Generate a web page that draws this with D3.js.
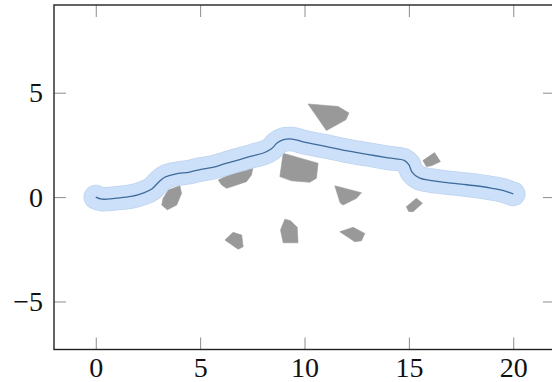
<!DOCTYPE html>
<meta charset="utf-8">
<style>
body { margin: 0; background: #fff; }
.axis text { font-family: "Liberation Serif", "DejaVu Serif", serif; font-size: 28px; fill: #111; }
.axis .tick line { stroke: #8c8c8c; stroke-width: 1; }
.axis .domain { display: none; }
.frame { fill: none; stroke: #222; stroke-width: 1.4; }
.obstacle { fill: #999; stroke: #999; stroke-width: 0.6; stroke-linejoin: round; }
.band-edge { fill: none; stroke: #bdd2ee; stroke-width: 24.5; stroke-linecap: round; stroke-linejoin: round; }
.band { fill: none; stroke: #cce0fa; stroke-width: 23; stroke-linecap: round; stroke-linejoin: round; }
.path { fill: none; stroke: #3f6b9a; stroke-width: 1.3; }
</style>
<svg width="552" height="382"></svg>
<script src="https://cdn.jsdelivr.net/npm/d3@7"></script>
<script>

// path found through the obstacle field
var pathX = [0, 0.3, 1, 1.7, 2.3, 2.7, 3.0, 3.3, 3.8, 4.5, 5.0, 5.6, 6.2, 6.9, 7.5, 8.0, 8.4, 8.7, 9.0, 9.4, 10.0, 11.0, 12.0, 13.0, 14.0, 14.8, 15.0, 15.15, 15.5, 16.0, 16.6, 17.5, 18.3, 19.0, 19.5, 20];
var pathY = [0, -0.1, -0.05, 0.03, 0.2, 0.4, 0.7, 0.95, 1.1, 1.2, 1.32, 1.42, 1.6, 1.8, 1.97, 2.1, 2.3, 2.6, 2.75, 2.78, 2.63, 2.43, 2.22, 2.05, 1.88, 1.75, 1.55, 1.2, 0.92, 0.8, 0.72, 0.62, 0.53, 0.42, 0.32, 0.15];

// obstacles, each a list of [x, y] corners
var obstacles = [
  [[3.47, 0.34], [4.03, 0.54], [4.11, 0.18], [3.88, -0.38], [3.43, -0.61], [3.16, -0.38], [3.23, -0.06]],
  [[5.87, 0.82], [6.90, 1.30], [7.54, 1.46], [7.46, 1.06], [7.22, 0.74], [6.27, 0.42], [6.03, 0.58]],
  [[8.98, 2.10], [10.65, 1.62], [10.57, 0.90], [10.25, 0.71], [9.38, 0.78], [8.82, 0.98]],
  [[10.17, 4.46], [11.61, 4.34], [12.13, 4.03], [11.98, 3.70], [11.05, 3.19]],
  [[11.45, 0.54], [12.73, 0.21], [12.49, -0.06], [11.85, -0.38], [11.71, -0.28]],
  [[15.67, 1.75], [16.23, 2.13], [16.51, 1.70], [16.08, 1.50], [15.84, 1.46]],
  [[14.88, -0.46], [15.36, -0.06], [15.65, -0.30], [15.20, -0.70], [14.99, -0.69]],
  [[6.19, -2.06], [6.58, -1.69], [6.99, -1.82], [7.06, -2.38], [6.82, -2.50]],
  [[9.06, -1.06], [9.33, -1.13], [9.65, -1.45], [9.69, -2.19], [8.98, -2.19], [8.85, -1.58]],
  [[11.69, -1.66], [12.33, -1.45], [12.89, -1.74], [12.73, -2.09], [12.41, -2.14]]
];

var xTicks = [0, 5, 10, 15, 20];
var yTicks = [-5, 0, 5];

var svg = d3.select("svg"),
    mLeft = 54, mRight = 555, mTop = 5, mBottom = 349.5;

var x = d3.scaleLinear().domain([-2, 22]).range([mLeft, mRight]),
    y = d3.scaleLinear().domain([-7.3, 9.2]).range([mBottom, mTop]);

svg.append("clipPath").attr("id", "clip")
  .append("rect")
    .attr("x", mLeft).attr("y", mTop)
    .attr("width", mRight - mLeft).attr("height", mBottom - mTop);

var plot = svg.append("g").attr("clip-path", "url(#clip)");

plot.selectAll(".obstacle")
  .data(obstacles)
  .enter().append("polygon")
    .attr("class", "obstacle")
    .attr("points", function(d) { return d.map(function(p) { return x(p[0]) + "," + y(p[1]); }).join(" "); });

var pts = pathX.map(function(v, i) { return [v, pathY[i]]; });
var line = d3.line()
    .x(function(d) { return x(d[0]); })
    .y(function(d) { return y(d[1]); })
    .curve(d3.curveCatmullRom.alpha(0.5));

plot.append("path").attr("class", "band-edge").attr("d", line(pts));
plot.append("path").attr("class", "band").attr("d", line(pts));
plot.append("path").attr("class", "path").attr("d", line(pts));

var fmt = function(d) { return d < 0 ? "\u2212" + (-d) : d; };

svg.append("g")
    .attr("class", "axis")
    .attr("transform", "translate(0," + mBottom + ")")
    .call(d3.axisBottom(x).tickValues(xTicks).tickSize(-12).tickPadding(8).tickFormat(fmt));

svg.append("g")
    .attr("class", "axis")
    .attr("transform", "translate(0," + mTop + ")")
    .call(d3.axisTop(x).tickValues(xTicks).tickSize(-12).tickFormat(""));

svg.append("g")
    .attr("class", "axis")
    .attr("transform", "translate(" + mLeft + ",0)")
    .call(d3.axisLeft(y).tickValues(yTicks).tickSize(-12).tickPadding(11).tickFormat(fmt));

svg.append("g")
    .attr("class", "axis")
    .attr("transform", "translate(" + mRight + ",0)")
    .call(d3.axisRight(y).tickValues(yTicks).tickSize(-12).tickFormat(""));

svg.append("rect")
    .attr("class", "frame")
    .attr("x", mLeft).attr("y", mTop)
    .attr("width", mRight - mLeft).attr("height", mBottom - mTop);

</script>
